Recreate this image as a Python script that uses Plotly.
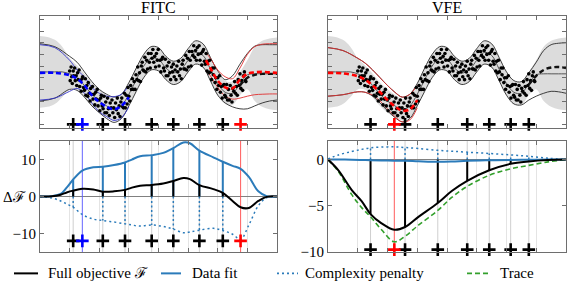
import plotly.graph_objects as go

W, H = 571, 295
FONT = "Liberation Serif"

# ---------------- top panels (x in [0, 8], y in arbitrary units) ----------------
XF = [0, 0.25, 0.5, 0.75, 1.0, 1.25, 1.5, 1.75, 2.0, 2.25, 2.5, 2.75, 3.0, 3.25, 3.5, 3.75,
      4.0, 4.25, 4.5, 4.75, 5.0, 5.25, 5.5, 5.75, 6.0, 6.25, 6.5, 6.75, 7.0, 7.25, 7.5, 7.75, 8.0]
FULL_MEAN = [54, 54, 54, 54, 52, 48, 40, 31, 24, 19, 15, 19, 31, 46, 60, 68,
             67, 58, 53, 56, 66, 74, 71, 57, 42, 33, 32, 42, 51, 52, 52, 52, 52]
FULL_BAND = [37, 36, 33, 26, 16, 12.5, 12, 12, 12, 11.5, 11, 11.5, 12, 12, 12, 12,
             12, 12, 12, 12, 12, 12, 12, 12, 12, 12, 12, 12, 15, 28, 34, 36.5, 37.5]

XB = [0, 0.5, 1.0, 1.25, 1.5, 1.75, 2.0, 2.25, 2.5, 2.75, 3.0, 3.25, 3.5, 3.75, 4.0, 4.25,
      4.5, 4.75, 5.0, 5.25, 5.5, 5.75, 6.0, 6.25, 6.5, 6.75, 7.0, 7.25, 7.5, 7.75, 8.0]
FITC_UP = [83, 80, 70, 64, 54, 44, 36, 31, 28, 31, 43, 58, 72, 80, 79, 70,
           65, 68, 78, 86, 83, 69, 55, 46, 50, 62, 73, 80.5, 82, 82, 82]
FITC_LO = [24, 27, 36, 35, 28, 19, 12, 6, 2, 6, 19, 34, 48, 56, 55, 46,
           41, 44, 54, 62, 59, 45, 30, 22, 18, 16, 16, 19, 22, 24, 25]
FITC_MEAN = [53, 53, 51, 47, 40, 31, 24, 18, 15, 18, 31, 46, 60, 68, 67, 58,
             53, 56, 66, 74, 71, 57, 42, 34, 33, 40, 48, 51, 52, 52, 52]
VFE_UP = [79, 76, 68, 63, 56, 48, 40, 33, 28, 31, 42, 58, 72, 80, 79, 70,
          65, 68, 78, 86, 83, 69, 54, 45, 44, 53, 64, 76, 82, 83.5, 84]
VFE_LO = [29, 30.5, 33.5, 33, 29, 22, 14, 7, 2.5, 6, 19, 34, 48, 56, 55, 46,
          41, 44, 54, 62, 59, 45, 30, 21, 20, 25, 29, 32, 34, 33.5, 32]
VFE_MEAN = [53, 52.5, 50, 47, 40, 31, 24, 18, 15, 19, 31, 46, 60, 68, 67, 58,
            53, 56, 66, 74, 71, 57, 42, 33, 32, 41, 50, 56, 58.5, 59, 58]
MEAN_VISIBLE_FROM = 6.75  # sparse mean only shows clear of the data cloud

# moved-point predictions, left region
XLEFT = [0, 0.5, 1.0, 1.25, 1.5, 1.75, 2.0, 2.25, 2.5, 2.75, 3.0]
FITC_BLUE_UP = [82, 79, 66, 56, 49, 38, 32, 29, 28.5, 31, 40]
FITC_BLUE_LO = [25, 27, 34, 37, 32, 22, 13, 8, 4, 7, 18]
FITC_BLUE_MEAN = [53, 53, 50.5, 47, 40, 30, 23, 18, 15.5, 19, 28]
VFE_RED_UP = [79, 76, 68, 63, 56, 48, 40, 33, 28, 31, 40]
VFE_RED_LO = [29, 30.5, 33.5, 33, 30, 24, 16, 8, 2.5, 4.5, 17]
VFE_RED_MEAN = [53, 52.5, 49.5, 46, 40, 33, 25, 18.5, 14, 15.5, 25]
# moved-point prediction, right region (FITC)
XRIGHT = [5.6, 5.75, 6.0, 6.25, 6.5, 6.75, 7.0, 7.25, 7.5, 7.75, 8.0]
FITC_RED_UP = [74, 68, 56, 49, 47, 58, 72, 80, 82.5, 83, 83]
FITC_RED_LO = [56, 50, 38, 29, 26, 27, 29, 30.5, 31, 31.3, 31.3]
FITC_RED_MEAN = [66, 58, 45, 38, 37, 46, 52, 53.5, 54, 53.5, 53]

# observations
SX = [1.00, 1.02, 1.05, 1.07, 1.09, 1.12, 1.14, 1.17, 1.19, 1.22, 1.24, 1.27, 1.29, 1.32, 1.34, 1.37,
      1.39, 1.42, 1.44, 1.47, 1.50, 1.53, 1.55, 1.58, 1.61, 1.63, 1.66, 1.69, 1.71, 1.74, 1.77, 1.79,
      1.82, 1.85, 1.88, 1.90, 1.93, 1.96, 1.99, 2.02, 2.05, 2.07, 2.10, 2.13, 2.16, 2.19, 2.22, 2.25,
      2.28, 2.31, 2.34, 2.37, 2.40, 2.43, 2.46, 2.49, 2.52, 2.55, 2.58, 2.61, 2.64, 2.67, 2.70, 2.73,
      2.76, 2.79, 2.82, 2.85, 2.88, 2.91, 2.94, 2.97, 3.00, 3.03, 3.06, 3.09, 3.12, 3.15, 3.18, 3.21,
      3.24, 3.27, 3.30, 3.33, 3.36, 3.39, 3.42, 3.45, 3.48, 3.51, 3.54, 3.57, 3.60, 3.63, 3.66, 3.69,
      3.72, 3.75, 3.78, 3.81, 3.84, 3.87, 3.90, 3.93, 3.96, 3.99, 4.02, 4.05, 4.08, 4.11, 4.14, 4.17,
      4.20, 4.23, 4.26, 4.29, 4.32, 4.35, 4.38, 4.41, 4.44, 4.47, 4.50, 4.53, 4.56, 4.59, 4.62, 4.65,
      4.68, 4.71, 4.74, 4.77, 4.80, 4.83, 4.86, 4.89, 4.92, 4.95, 4.98, 5.01, 5.04, 5.07, 5.10, 5.13,
      5.16, 5.19, 5.22, 5.25, 5.28, 5.31, 5.34, 5.37, 5.40, 5.43, 5.46, 5.49, 5.52, 5.55, 5.58, 5.61,
      5.64, 5.67, 5.70, 5.73, 5.76, 5.79, 5.82, 5.85, 5.88, 5.91, 5.94, 5.97, 6.00, 6.03, 6.06, 6.09,
      6.12, 6.15, 6.18, 6.21, 6.24, 6.27, 6.30, 6.33, 6.36, 6.39, 6.42, 6.45, 6.48, 6.51, 6.54, 6.57,
      6.60, 6.63, 6.66, 6.69, 6.72, 6.75, 6.78, 6.81, 6.84, 6.87, 6.90, 6.93, 6.95]
SY = [55, 45, 59, 49, 42, 55, 50, 58, 45, 50, 40, 53, 46, 56, 39, 45,
      34, 47, 49, 38, 35, 47, 30, 40, 29, 43, 32, 24, 37, 31, 39, 26,
      31, 20, 33, 26, 36, 19, 25, 14, 27, 30, 19, 16, 29, 12, 23, 12,
      27, 16, 9, 22, 17, 25, 12, 17, 7, 22, 15, 27, 11, 19, 8, 23,
      27, 18, 17, 32, 17, 30, 21, 38, 29, 24, 40, 36, 47, 36, 44, 36,
      51, 46, 59, 45, 53, 44, 60, 64, 56, 55, 69, 54, 66, 57, 73, 64,
      58, 73, 68, 77, 64, 70, 59, 73, 66, 77, 60, 66, 54, 67, 69, 58,
      55, 67, 50, 60, 50, 64, 53, 46, 59, 54, 62, 49, 56, 46, 60, 54,
      65, 50, 57, 47, 62, 66, 57, 57, 71, 56, 68, 59, 75, 66, 60, 75,
      71, 81, 69, 76, 66, 79, 72, 81, 66, 73, 61, 75, 77, 65, 62, 73,
      55, 65, 53, 66, 54, 46, 58, 51, 58, 43, 48, 36, 48, 40, 50, 33,
      39, 27, 40, 41, 30, 28, 41, 25, 36, 25, 40, 30, 23, 37, 34, 44,
      32, 39, 30, 46, 40, 52, 37, 45, 35, 50, 54, 45, 44]

FITC_Z = [1.12, 2.12, 2.87, 3.77, 4.50, 5.38, 6.17]
FITC_BLUE_Z = 1.43
FITC_RED_Z = 6.77
VFE_Z = [1.43, 2.59, 3.69, 4.68, 5.42, 6.14, 6.75]
VFE_RED_Z = 2.23

# ---------------- bottom panels ----------------
XL = [0, 0.4, 0.7, 0.9, 1.12, 1.43, 1.8, 2.12, 2.5, 2.87, 3.1, 3.38, 3.77, 4.16, 4.50,
      4.84, 5.06, 5.38, 5.85, 6.17, 6.5, 6.77, 7.05, 7.37, 7.65, 8.0]
FITC_DATAFIT = [0, 0.1, 0.7, 2.4, 4.6, 7.0, 7.9, 8.05, 8.5, 9.2, 10.0, 10.9, 11.2, 11.8, 13.1,
                14.6, 14.4, 12.4, 10.6, 9.4, 8.3, 7.5, 5.3, 1.4, 0.1, 0]
FITC_FULL = [0, 0.05, 0.5, 1.1, 1.6, 2.1, 1.9, 1.3, 1.4, 1.8, 2.4, 2.9, 3.1, 3.5, 4.2,
             5.0, 4.7, 3.1, 2.0, 1.0, -1.2, -2.9, -3.1, -1.2, -0.1, 0]
FITC_COMPLEX = [0, -0.4, -1.2, -2.0, -2.9, -4.9, -6.1, -6.5, -6.9, -7.4, -7.7, -8.0, -7.7, -8.1, -8.8,
                -9.8, -9.6, -9.1, -8.6, -9.2, -10.2, -11.6, -7.7, -2.5, -0.3, 0]

XR = [0, 0.35, 0.8, 1.13, 1.43, 1.80, 2.23, 2.59, 3.04, 3.69, 4.16, 4.68, 5.42, 6.14, 6.75, 7.4, 8.0]
VFE_FULL = [0, -1.16, -3.3, -4.5, -5.9, -6.9, -7.6, -7.3, -6.2, -4.7, -3.4, -2.3, -1.16, -0.46, -0.2, -0.05, 0]
VFE_TRACE = [0, -1.3, -3.8, -5.2, -6.2, -7.6, -8.9, -8.3, -7.1, -5.5, -4.1, -2.9, -1.7, -1.0, -0.63, -0.25, 0]
VFE_COMPLEX = [0.05, 0.5, 0.87, 1.1, 1.26, 1.35, 1.37, 1.3, 1.2, 1.0, 0.9, 0.8, 0.66, 0.5, 0.35, 0.15, 0]
VFE_DATAFIT = [0, 0, -0.02, -0.05, -0.07, -0.1, -0.12, -0.12, -0.18, -0.25, -0.22, -0.14, -0.08, -0.04, -0.02, 0, 0]

# ---------------- styles ----------------
C_BLUE = "#2b7bba"
C_GREEN = "#33a02c"
C_PBLUE = "#0000ff"
C_TBLUE = "#3535c8"
C_RED = "#ff0000"
C_TRED = "#e03030"
C_GRAYLINE = "#2a2a2a"
C_FILL = "#dcdcdc"
AX = "#6e6e6e"

fig = go.Figure()


def line(x, y, ax, color, width=1.0, dash=None, shape="spline"):
    fig.add_trace(go.Scatter(x=x, y=y, xaxis=ax[0], yaxis=ax[1], mode="lines",
                             line=dict(color=color, width=width, dash=dash, shape=shape),
                             hoverinfo="skip", showlegend=False))


def band(x, lo, hi, ax):
    fig.add_trace(go.Scatter(x=x, y=hi, xaxis=ax[0], yaxis=ax[1], mode="lines",
                             line=dict(width=0, shape="spline"), hoverinfo="skip", showlegend=False))
    fig.add_trace(go.Scatter(x=x, y=lo, xaxis=ax[0], yaxis=ax[1], mode="lines",
                             line=dict(width=0, shape="spline"), fill="tonexty",
                             fillcolor=C_FILL, hoverinfo="skip", showlegend=False))


def plus(xs, yv, ax, color):
    fig.add_trace(go.Scatter(x=xs, y=[yv] * len(xs), xaxis=ax[0], yaxis=ax[1], mode="markers",
                             marker=dict(symbol="cross-thin", size=9,
                                         line=dict(color=color, width=2.6)),
                             cliponaxis=False, hoverinfo="skip", showlegend=False))


def vlines(xs, ax, color, width, yr):
    xx, yy = [], []
    for v in xs:
        xx += [v, v, None]
        yy += [yr[0], yr[1], None]
    fig.add_trace(go.Scatter(x=xx, y=yy, xaxis=ax[0], yaxis=ax[1], mode="lines",
                             line=dict(color=color, width=width), hoverinfo="skip", showlegend=False))


def stems(xs, grid, vals, ax, color, width, dash=None):
    lookup = dict(zip(grid, vals))
    xx, yy = [], []
    for v in xs:
        xx += [v, v, None]
        yy += [0, lookup[v], None]
    fig.add_trace(go.Scatter(x=xx, y=yy, xaxis=ax[0], yaxis=ax[1], mode="lines",
                             line=dict(color=color, width=width, dash=dash),
                             hoverinfo="skip", showlegend=False))


def tail(xs, ys, x0):
    pairs = [(a, b) for a, b in zip(xs, ys) if a >= x0]
    return [p[0] for p in pairs], [p[1] for p in pairs]


band_hi = [m + w for m, w in zip(FULL_MEAN, FULL_BAND)]
band_lo = [m - w for m, w in zip(FULL_MEAN, FULL_BAND)]

# ---- FITC top ----
A1 = ("x", "y")
band(XF, band_lo, band_hi, A1)
line(XF, FULL_MEAN, A1, "#555555", 1.0)
line(XB, FITC_UP, A1, C_GRAYLINE, 0.9)
line(XB, FITC_LO, A1, C_GRAYLINE, 0.9)
line(XLEFT, FITC_BLUE_UP, A1, C_TBLUE, 0.9)
line(XLEFT, FITC_BLUE_LO, A1, C_TBLUE, 0.9)
line(XRIGHT, FITC_RED_UP, A1, C_TRED, 0.9)
line(XRIGHT, FITC_RED_LO, A1, C_TRED, 0.9)
fig.add_trace(go.Scatter(x=SX, y=SY, xaxis="x", yaxis="y", mode="markers",
                         marker=dict(color="black", size=3.6), hoverinfo="skip", showlegend=False))
tx, ty = tail(XB, FITC_MEAN, MEAN_VISIBLE_FROM)
line(tx, ty, A1, "#111111", 2.4, "5px,3px")
line(XLEFT, FITC_BLUE_MEAN, A1, C_PBLUE, 2.6, "5px,3px")
line(XRIGHT, FITC_RED_MEAN, A1, C_RED, 2.6, "5px,3px")
plus(FITC_Z, 0, A1, "black")
plus([FITC_BLUE_Z], 0, A1, C_PBLUE)
plus([FITC_RED_Z], 0, A1, C_RED)

# ---- VFE top ----
A2 = ("x2", "y2")
band(XF, band_lo, band_hi, A2)
line(XF, FULL_MEAN, A2, "#555555", 1.0)
line(XB, VFE_UP, A2, C_GRAYLINE, 0.9)
line(XB, VFE_LO, A2, C_GRAYLINE, 0.9)
line(XLEFT, VFE_RED_UP, A2, C_TRED, 0.9)
line(XLEFT, VFE_RED_LO, A2, C_TRED, 0.9)
fig.add_trace(go.Scatter(x=SX, y=SY, xaxis="x2", yaxis="y2", mode="markers",
                         marker=dict(color="black", size=3.6), hoverinfo="skip", showlegend=False))
tx, ty = tail(XB, VFE_MEAN, MEAN_VISIBLE_FROM)
line(tx, ty, A2, "#111111", 2.4, "5px,3px")
line(XLEFT, VFE_RED_MEAN, A2, C_RED, 2.6, "5px,3px")
plus(VFE_Z, 0, A2, "black")
plus([VFE_RED_Z], 0, A2, C_RED)

# ---- FITC bottom ----
A3 = ("x3", "y3")
vlines(FITC_Z, A3, "#cfcfcf", 1, (-15, 15))
vlines([FITC_BLUE_Z], A3, "rgba(90,90,255,0.85)", 1.1, (-15, 15))
vlines([FITC_RED_Z], A3, "rgba(255,80,80,0.85)", 1.1, (-15, 15))
stems(FITC_Z, XL, FITC_DATAFIT, A3, C_BLUE, 2.0)
stems(FITC_Z, XL, FITC_COMPLEX, A3, C_BLUE, 1.5, "2px,2.5px")
stems(FITC_Z, XL, FITC_FULL, A3, "black", 2.0)
line(XL, FITC_COMPLEX, A3, C_BLUE, 1.5, "2px,3px")
line(XL, FITC_DATAFIT, A3, C_BLUE, 2.0)
line(XL, FITC_FULL, A3, "black", 2.0)
plus(FITC_Z, -12, A3, "black")
plus([FITC_BLUE_Z], -12, A3, C_PBLUE)
plus([FITC_RED_Z], -12, A3, C_RED)

# ---- VFE bottom ----
A4 = ("x4", "y4")
vlines(VFE_Z, A4, "#cfcfcf", 1, (-10, 2))
vlines([VFE_RED_Z], A4, "rgba(255,80,80,0.85)", 1.1, (-10, 2))
stems(VFE_Z, XR, VFE_COMPLEX, A4, C_BLUE, 1.5, "2px,2.5px")
stems(VFE_Z, XR, VFE_FULL, A4, "black", 2.0)
line(XR, VFE_TRACE, A4, C_GREEN, 1.6, "5px,3px")
line(XR, VFE_COMPLEX, A4, C_BLUE, 1.5, "2px,3px")
line(XR, VFE_DATAFIT, A4, C_BLUE, 2.0)
line(XR, VFE_FULL, A4, "black", 2.0)
plus(VFE_Z, -9.75, A4, "black")
plus([VFE_RED_Z], -9.75, A4, C_RED)


# ---------------- axes ----------------
def xax(dom, anchor, grid=False):
    return dict(domain=dom, anchor=anchor, range=[0, 8], tickvals=[1, 2, 3, 4, 5, 6, 7],
                showticklabels=False, ticks="inside", ticklen=4, tickcolor=AX, tickwidth=1,
                showline=True, linecolor=AX, linewidth=1, mirror="ticks",
                showgrid=grid, gridcolor="#e4e4e4", gridwidth=1, zeroline=False, fixedrange=True)


def yax(dom, anchor, rng, vals, text=None, zero=False):
    d = dict(domain=dom, anchor=anchor, range=rng, tickvals=vals,
             ticks="inside", ticklen=4, tickcolor=AX, tickwidth=1,
             showline=True, linecolor=AX, linewidth=1, mirror="ticks",
             showgrid=False, zeroline=zero, zerolinecolor="#808080", zerolinewidth=1,
             fixedrange=True, tickfont=dict(family=FONT, size=15, color="black"))
    if text is None:
        d["showticklabels"] = False
    else:
        d["ticktext"] = text
    return d


XL_DOM = [40 / W, 277 / W]
XR_DOM = [328 / W, 566 / W]
YT_DOM = [1 - 131.5 / H, 1 - 16 / H]
YB_DOM = [1 - 259 / H, 1 - 145 / H]

fig.update_layout(
    width=W, height=H, margin=dict(l=0, r=0, t=0, b=0),
    paper_bgcolor="white", plot_bgcolor="white", showlegend=False,
    font=dict(family=FONT),
    xaxis=xax(XL_DOM, "y"), yaxis=yax(YT_DOM, "x", [-3.7, 112], list(range(0, 109, 12))),
    xaxis2=xax(XR_DOM, "y2"), yaxis2=yax(YT_DOM, "x2", [-3.7, 112], list(range(0, 109, 12))),
    xaxis3=xax(XL_DOM, "y3", True),
    yaxis3=yax(YB_DOM, "x3", [-15, 15], [-10, 0, 10], ["\u221210", "0", "10"], True),
    xaxis4=xax(XR_DOM, "y4", True),
    yaxis4=yax(YB_DOM, "x4", [-10, 2], [-10, -5, 0], ["\u221210", "\u22125", "0"], True),
)

ann = [
    dict(text="FITC", x=158.5 / W, y=1 - 8 / H, size=16, xanchor="center"),
    dict(text="VFE", x=447 / W, y=1 - 8 / H, size=16, xanchor="center"),
    dict(text="\u0394\u2131", x=14 / W, y=1 - 202 / H, size=15, xanchor="center"),
    dict(text="Full objective \u2131", x=46 / W, y=1 - 281 / H, size=15, xanchor="left"),
    dict(text="Data fit", x=190 / W, y=1 - 281 / H, size=15, xanchor="left"),
    dict(text="Complexity penalty", x=303 / W, y=1 - 281 / H, size=15, xanchor="left"),
    dict(text="Trace", x=498 / W, y=1 - 281 / H, size=15, xanchor="left"),
]
for a in ann:
    fig.add_annotation(text=a["text"], x=a["x"], y=a["y"], xref="paper", yref="paper",
                       xanchor=a["xanchor"], yanchor="middle", showarrow=False,
                       font=dict(family=FONT, size=a["size"], color="black"))

LEG_Y = 1 - 281 / H
for (x0, x1, col, dash, wd) in [(14, 38, "black", None, 2), (161, 181, C_BLUE, None, 2),
                                (277, 298, C_BLUE, "dot", 1.6), (467, 491, C_GREEN, "dash", 1.6)]:
    fig.add_shape(type="line", xref="paper", yref="paper", x0=x0 / W, x1=x1 / W,
                  y0=LEG_Y, y1=LEG_Y, line=dict(color=col, width=wd,
                                               dash=("2px,3px" if dash == "dot" else ("5px,3px" if dash else "solid"))))

fig.write_html("out.html")
